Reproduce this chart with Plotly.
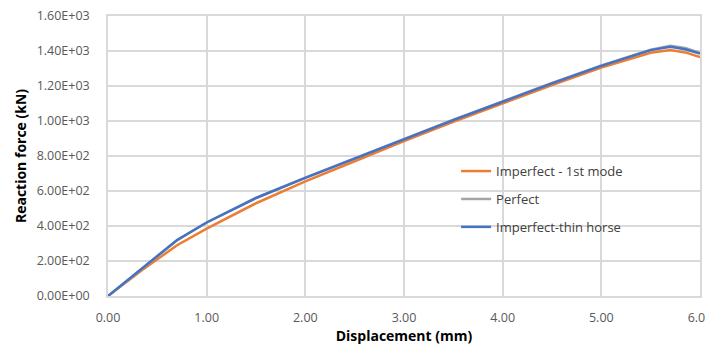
import plotly.graph_objects as go

x_vals = [0, 0.35, 0.7, 1.0, 1.5, 2.0, 2.5, 3.0, 3.5, 4.0, 4.5, 5.0, 5.5, 5.7, 5.85, 6.0]
imperfect_1st = [0, 150, 290, 385, 530, 655, 770, 885, 995, 1100, 1205, 1305, 1390, 1405, 1392, 1365]
perfect = [0, 160, 318, 420, 560, 676, 787, 897, 1007, 1112, 1217, 1317, 1408, 1430, 1418, 1390]
imperfect_thin = [0, 160, 320, 420, 560, 675, 785, 895, 1005, 1110, 1215, 1315, 1405, 1424, 1410, 1385]

y_ticks = [0, 200, 400, 600, 800, 1000, 1200, 1400, 1600]
y_tick_labels = ["0.00E+00", "2.00E+02", "4.00E+02", "6.00E+02", "8.00E+02",
                 "1.00E+03", "1.20E+03", "1.40E+03", "1.60E+03"]
x_ticks = [0, 1, 2, 3, 4, 5, 6]
x_tick_labels = ["0.00", "1.00", "2.00", "3.00", "4.00", "5.00", "6.00"]

fig = go.Figure()
fig.add_trace(go.Scatter(x=x_vals, y=imperfect_1st, mode="lines", name="Imperfect - 1st mode",
                         legendgroup="a", line=dict(color="#ED7D31", width=2.5)))
fig.add_trace(go.Scatter(x=x_vals, y=perfect, mode="lines", name="Perfect",
                         legendgroup="b", line=dict(color="#A5A5A5", width=2.5)))
fig.add_trace(go.Scatter(x=x_vals, y=imperfect_thin, mode="lines", name="Imperfect-thin horse",
                         legendgroup="c", line=dict(color="#4472C4", width=2.5)))

fig.update_layout(
    width=713, height=347,
    margin=dict(l=100, r=21, t=8, b=59),
    paper_bgcolor="white", plot_bgcolor="white",
    font=dict(family="Open Sans, sans-serif", size=12.5, color="#595959"),
    showlegend=True,
    legend=dict(x=0.588, y=0.346, xanchor="left", yanchor="middle",
                bgcolor="rgba(0,0,0,0)", font=dict(size=13, color="#404040"),
                tracegroupgap=8),
    xaxis=dict(range=[0, 6], tickvals=x_ticks, ticktext=x_tick_labels, automargin=False,
               showgrid=True, gridcolor="#D9D9D9", gridwidth=1.5, zeroline=False,
               showline=True, mirror=True, linecolor="#D9D9D9", linewidth=1.5,
               ticks="", ticklabelstandoff=9, ticklabeloverflow="allow",
               title=dict(text="<b>Displacement (mm)</b>", font=dict(size=14, color="#000000"), standoff=0)),
    yaxis=dict(range=[0, 1600], tickvals=y_ticks, ticktext=y_tick_labels, automargin=False,
               showgrid=True, gridcolor="#D9D9D9", gridwidth=1.5, zeroline=False,
               showline=True, mirror=True, linecolor="#D9D9D9", linewidth=1.5,
               ticks="", ticklabelstandoff=14, ticklabeloverflow="allow",
               title=dict(text="<b>Reaction force (kN)</b>", font=dict(size=14, color="#000000"), standoff=7)),
)

fig.write_html("out.html")
